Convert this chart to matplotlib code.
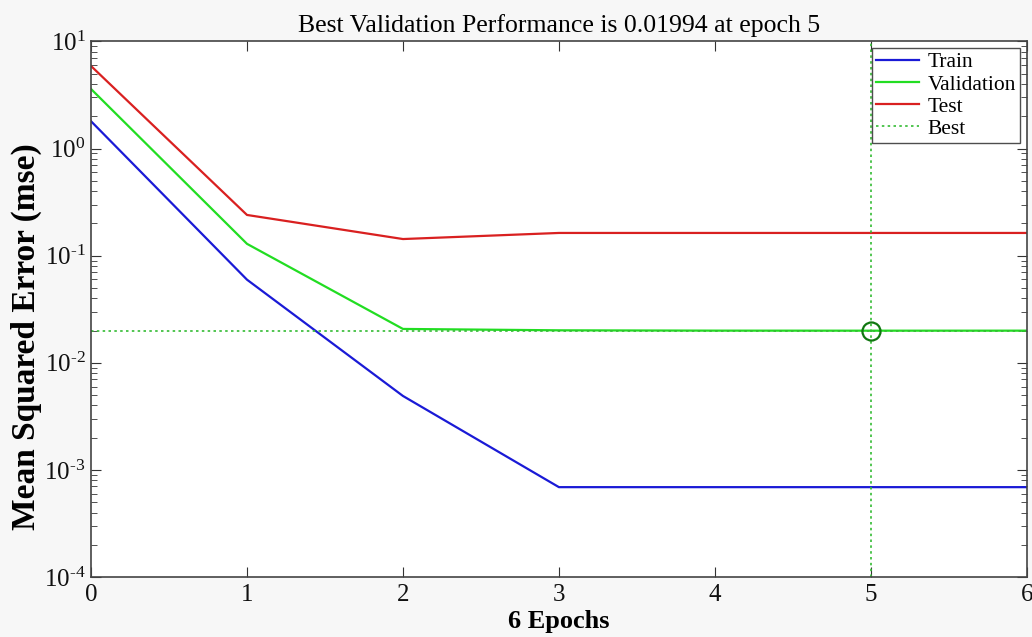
import matplotlib.pyplot as plt
from matplotlib.ticker import FuncFormatter
import numpy as np

plt.rcParams['font.family'] = 'Liberation Serif'
plt.rcParams['mathtext.fontset'] = 'custom'
plt.rcParams['mathtext.rm'] = 'Liberation Serif'
plt.rcParams['mathtext.it'] = 'Liberation Serif'
plt.rcParams['axes.unicode_minus'] = False

epochs = [0, 1, 2, 3, 4, 5, 6]
train_mse = [1.8, 0.0597, 0.0049, 0.00069, 0.00069, 0.00069, 0.00069]
val_mse = [3.6, 0.129, 0.0207, 0.0201, 0.01996, 0.01994, 0.01995]
test_mse = [5.9, 0.24, 0.143, 0.163, 0.163, 0.163, 0.163]
best_epoch = 5
best_perf = 0.01994

fig = plt.figure(figsize=(10.32, 6.37), dpi=100, facecolor='#f7f7f7')
ax = fig.add_axes([0.0882, 0.0942, 0.9068, 0.8407])

ax.plot(epochs, train_mse, color='#1a1ad6', lw=1.6, label='Train')
ax.plot(epochs, val_mse, color='#22dd22', lw=1.6, label='Validation')
ax.plot(epochs, test_mse, color='#d92020', lw=1.6, label='Test')
ax.axvline(best_epoch, color='#33bb33', lw=1.2, ls=(0, (1.5, 2)), label='Best')
ax.axhline(best_perf, color='#33bb33', lw=1.2, ls=(0, (1.5, 2)))
ax.plot(best_epoch, best_perf, 'o', ms=13, mfc='none', mec='#117711', mew=1.6)

ax.set_yscale('log')
ax.set_xlim(0, 6)
ax.set_ylim(1e-4, 1e1)
ax.set_xticks(epochs)


def pow10(v, pos):
    # plain hyphen in the exponent, the way MATLAB prints it
    e = int(round(np.log10(v)))
    return r'$10^{\text{%d}}$' % e


ax.yaxis.set_major_formatter(FuncFormatter(pow10))

ax.tick_params(which='both', direction='in', top=True, right=True, colors='#333333',
               labelcolor='#111111')
ax.tick_params(which='major', length=7, labelsize=18)
ax.tick_params(which='minor', length=4)
ax.tick_params(axis='x', which='major', pad=5)
ax.tick_params(axis='y', which='major', pad=4)
for s in ax.spines.values():
    s.set_color('#444444')
    s.set_linewidth(1.2)

ax.set_title('Best Validation Performance is 0.01994 at epoch 5', fontsize=18.5, pad=7)
ax.set_xlabel('6 Epochs', fontsize=19, fontweight='bold', labelpad=3)
ax.set_ylabel('Mean Squared Error (mse)', fontsize=24, fontweight='bold')
ax.yaxis.set_label_coords(-0.052, 0.449)

leg = ax.legend(loc='upper right', fontsize=15.5, frameon=True, fancybox=False,
                handlelength=2.0, handletextpad=0.4, borderpad=0.2, labelspacing=0.1,
                borderaxespad=0.3)
leg.get_frame().set_edgecolor('#222222')
leg.get_frame().set_linewidth(1.0)

fig.savefig('out.png', dpi=100, facecolor=fig.get_facecolor())
